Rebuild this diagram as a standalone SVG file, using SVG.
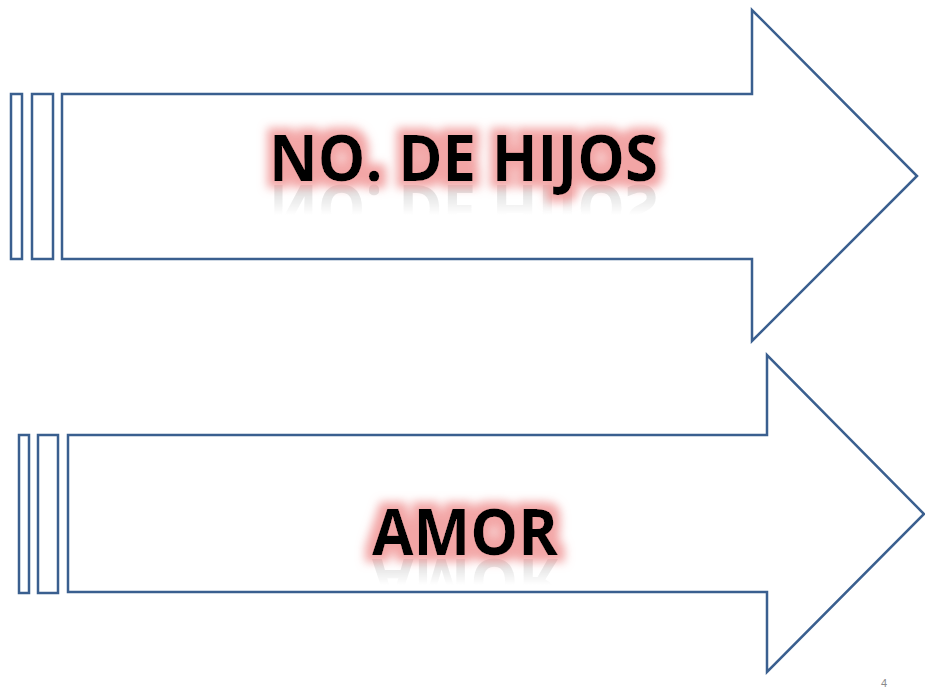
<svg xmlns="http://www.w3.org/2000/svg" width="925" height="688" viewBox="0 0 925 688">
<style>
.shape{fill:#ffffff;stroke:#3a5f8f;stroke-width:2.5;stroke-linejoin:miter}
.lbl{font-family:"Open Sans","Liberation Sans",sans-serif;font-weight:bold;font-size:64px;fill:#000000}
.refl{font-family:"Open Sans","Liberation Sans",sans-serif;font-weight:bold;font-size:64px;fill:#a0a0a0}
.pg{font-family:"Liberation Sans",sans-serif;font-size:11px;fill:#8a8a8a}
</style>
<defs>
<filter id="glow" x="-15%" y="-40%" width="130%" height="180%">
<feMorphology in="SourceAlpha" operator="dilate" radius="7" result="d"/>
<feGaussianBlur in="d" stdDeviation="5" result="b"/>
<feFlood flood-color="#f19c9c" flood-opacity="0.9"/>
<feComposite in2="b" operator="in" result="g"/>
<feMerge><feMergeNode in="g"/><feMergeNode in="SourceGraphic"/></feMerge>
</filter>
<linearGradient id="f1" gradientUnits="userSpaceOnUse" x1="0" y1="185" x2="0" y2="215">
<stop offset="0" stop-color="#fff" stop-opacity="0.4"/>
<stop offset="1" stop-color="#fff" stop-opacity="0"/>
</linearGradient>
<linearGradient id="f2" gradientUnits="userSpaceOnUse" x1="0" y1="558" x2="0" y2="585">
<stop offset="0" stop-color="#fff" stop-opacity="0.4"/>
<stop offset="1" stop-color="#fff" stop-opacity="0"/>
</linearGradient>
<mask id="m1" maskUnits="userSpaceOnUse" x="0" y="0" width="925" height="688"><rect x="0" y="183" width="925" height="40" fill="url(#f1)"/></mask>
<mask id="m2" maskUnits="userSpaceOnUse" x="0" y="0" width="925" height="688"><rect x="0" y="556" width="925" height="40" fill="url(#f2)"/></mask>
</defs>

<g id="arrow1">
<rect class="shape" x="11" y="94" width="11" height="165"/>
<rect class="shape" x="32" y="94" width="21" height="165"/>
<polygon class="shape" points="62,94 752,94 752,10 917,176 752,341 752,259 62,259"/>
<g mask="url(#m1)"><text class="refl" x="269" y="181" textLength="389" lengthAdjust="spacingAndGlyphs" transform="translate(0,366) scale(1,-1)">NO. DE HIJOS</text></g>
<text class="lbl" x="269" y="181" textLength="389" lengthAdjust="spacingAndGlyphs" filter="url(#glow)">NO. DE HIJOS</text>
</g>

<g id="arrow2">
<rect class="shape" x="19" y="435" width="10" height="158"/>
<rect class="shape" x="38" y="435" width="20" height="158"/>
<polygon class="shape" points="68,435 767,435 767,355 924,514 767,672 767,592 68,592"/>
<g mask="url(#m2)"><text class="refl" x="372" y="555" textLength="186" lengthAdjust="spacingAndGlyphs" transform="translate(0,1114) scale(1,-1)">AMOR</text></g>
<text class="lbl" x="372" y="555" textLength="186" lengthAdjust="spacingAndGlyphs" filter="url(#glow)">AMOR</text>
</g>

<g id="connectors"></g>
<text class="pg" x="881" y="687">4</text>
</svg>
